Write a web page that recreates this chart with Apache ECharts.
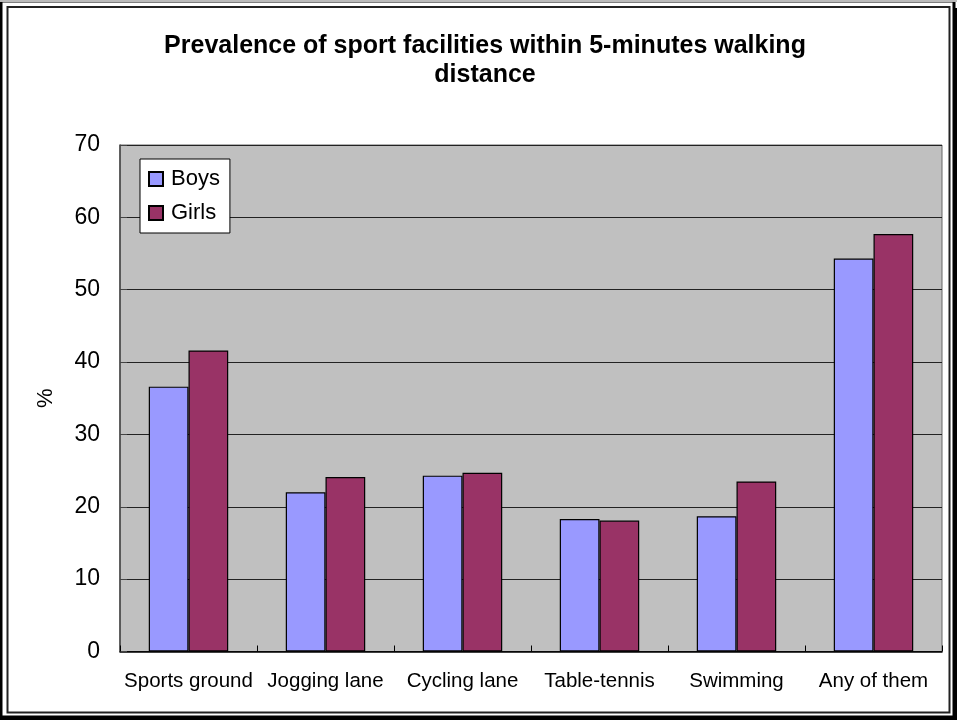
<!DOCTYPE html>
<html>
<head>
<meta charset="utf-8">
<style>
  html, body { margin: 0; padding: 0; background: #fff; }
  #chart { width: 957px; height: 720px; }
</style>
<script src="https://cdn.jsdelivr.net/npm/echarts@6/dist/echarts.min.js"></script>
</head>
<body>
<div id="chart"></div>
<script>
// Facility categories and prevalence (%) by sex
const categories = ['Sports ground', 'Jogging lane', 'Cycling lane', 'Table-tennis', 'Swimming', 'Any of them'];
const boys  = [36.6, 22.0, 24.3, 18.3, 18.7, 54.3];
const girls = [41.6, 24.1, 24.7, 18.1, 23.5, 57.7];
const yTicks = { min: 0, max: 70, step: 10 };

const FONT = 'Arial, "Liberation Sans", sans-serif';

const chart = echarts.init(document.getElementById('chart'), null, { renderer: 'canvas' });

chart.setOption({
  backgroundColor: '#ffffff',
  animation: false,
  title: {
    text: 'Prevalence of sport facilities within 5-minutes walking\ndistance',
    left: 480,
    textAlign: 'center',
    top: 27,
    textStyle: {
      fontFamily: FONT,
      fontWeight: 'bold',
      fontSize: 25,
      lineHeight: 29,
      color: '#000'
    }
  },
  graphic: [
    // outer page edge
    { type: 'rect', silent: true, z: -10,
      shape: { x: 1, y: 1, width: 953, height: 716 },
      style: { fill: 'none', stroke: '#000', lineWidth: 3 } },
    { type: 'line', silent: true, z: -9,
      shape: { x1: 0, y1: 1, x2: 957, y2: 1 },
      style: { stroke: '#bbb', lineWidth: 2 } },
    { type: 'rect', silent: true, z: -9,
      shape: { x: 953, y: 8, width: 4, height: 712 },
      style: { fill: '#000' } },
    { type: 'rect', silent: true, z: -9,
      shape: { x: 0, y: 716, width: 957, height: 4 },
      style: { fill: '#000' } },
    // chart frame
    { type: 'rect', silent: true, z: -8,
      shape: { x: 7.5, y: 7, width: 942, height: 705.5 },
      style: { fill: '#fff', stroke: '#222', lineWidth: 2 } }
  ],
  legend: {
    orient: 'vertical',
    left: 140,
    top: 159,
    backgroundColor: '#fff',
    borderColor: '#000',
    borderWidth: 1,
    borderRadius: 0,
    padding: [9, 10, 9, 8],
    itemGap: 12,
    itemWidth: 14,
    itemHeight: 14,
    icon: 'rect',
    textStyle: {
      fontFamily: FONT,
      fontSize: 22,
      color: '#000',
      padding: [0, 0, 0, 3]
    },
    data: ['Boys', 'Girls']
  },
  grid: {
    left: 120,
    top: 145,
    right: 15,
    bottom: 68.5,
    show: true,
    backgroundColor: '#c0c0c0',
    borderColor: '#666',
    borderWidth: 1
  },
  xAxis: {
    type: 'category',
    data: categories,
    axisLine: { show: true, lineStyle: { color: '#000', width: 1.5 } },
    axisTick: { show: true, inside: true, length: 6, alignWithLabel: false, lineStyle: { color: '#000' } },
    axisLabel: {
      fontFamily: FONT,
      fontSize: 20.5,
      color: '#000',
      margin: 19,
      interval: 0
    },
    splitLine: { show: false }
  },
  yAxis: {
    type: 'value',
    min: yTicks.min,
    max: yTicks.max,
    interval: yTicks.step,
    name: '%',
    nameLocation: 'middle',
    nameRotate: 90,
    nameGap: 63,
    nameTextStyle: { fontFamily: FONT, fontSize: 22, color: '#000' },
    axisLine: { show: true, lineStyle: { color: '#444', width: 1.5 } },
    axisTick: { show: true, inside: true, length: 7, lineStyle: { color: '#444' } },
    axisLabel: {
      fontFamily: FONT,
      fontSize: 23,
      color: '#000',
      margin: 20
    },
    splitLine: { show: true, lineStyle: { color: '#222', width: 1 } }
  },
  series: [
    {
      name: 'Boys',
      type: 'bar',
      data: boys,
      barGap: '0%',
      barCategoryGap: '42%',
      itemStyle: { color: '#9999ff', borderColor: '#000', borderWidth: 1.2 }
    },
    {
      name: 'Girls',
      type: 'bar',
      data: girls,
      barGap: '0%',
      barCategoryGap: '42%',
      itemStyle: { color: '#993366', borderColor: '#000', borderWidth: 1.2 }
    }
  ]
});
</script>
</body>
</html>
